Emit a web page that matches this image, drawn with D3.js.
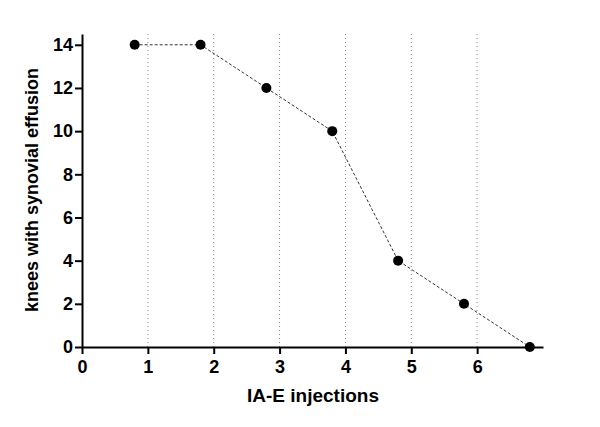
<!DOCTYPE html>
<meta charset="UTF-8">
<style>
body { margin: 0; background: #fff; }
.axis text { font: bold 18px "Liberation Sans", Arial, sans-serif; fill: #000; }
.axis path, .axis line { stroke: #000; stroke-width: 2px; }
.grid { stroke: #888; stroke-width: 1px; stroke-dasharray: 1,3; }
.link { fill: none; stroke: #333; stroke-width: 1px; stroke-dasharray: 3,2; }
.title { font: bold 18px "Liberation Sans", Arial, sans-serif; fill: #000; }
</style>
<body>
<script src="https://d3js.org/d3.v7.min.js"></script>
<script>

var injections = [0.8, 1.8, 2.8, 3.8, 4.8, 5.8, 6.8];
var knees = [14, 14, 12, 10, 4, 2, 0];
var xTicks = [0, 1, 2, 3, 4, 5, 6];
var yTicks = [0, 2, 4, 6, 8, 10, 12, 14];
var gridLines = [1, 2, 3, 4, 5, 6];

var width = 600, height = 427;

var svg = d3.select("body").append("svg")
    .attr("width", width)
    .attr("height", height);

var x = d3.scaleLinear().domain([0, 7]).range([82, 543]);
var y = d3.scaleLinear().domain([0, 14.5]).range([347, 34]);

// dotted verticals
svg.selectAll("line.grid")
    .data(gridLines)
  .enter().append("line")
    .attr("class", "grid")
    .attr("x1", function(d) { return x(d); })
    .attr("x2", function(d) { return x(d); })
    .attr("y1", y(14.5))
    .attr("y2", y(0));

svg.append("g")
    .attr("class", "axis")
    .attr("transform", "translate(0," + y(0) + ")")
    .call(d3.axisBottom(x).tickValues(xTicks).tickFormat(d3.format("d"))
      .tickSize(7).tickPadding(6).tickSizeOuter(0));

svg.append("g")
    .attr("class", "axis")
    .attr("transform", "translate(" + x(0) + ",0)")
    .call(d3.axisLeft(y).tickValues(yTicks).tickFormat(d3.format("d"))
      .tickSize(7).tickPadding(2).tickSizeOuter(0));

var pts = injections.map(function(d, i) { return [d, knees[i]]; });

svg.append("path")
    .attr("class", "link")
    .attr("d", d3.line().x(function(d) { return x(d[0]); }).y(function(d) { return y(d[1]); })(pts));

svg.selectAll("circle.dot")
    .data(pts)
  .enter().append("circle")
    .attr("class", "dot")
    .attr("cx", function(d) { return x(d[0]); })
    .attr("cy", function(d) { return y(d[1]); })
    .attr("r", 5)
    .style("fill", "#000");

svg.append("text")
    .attr("class", "title")
    .style("font-size", "19px")
    .attr("x", 313)
    .attr("y", 402)
    .attr("text-anchor", "middle")
    .text("IA-E injections");

svg.append("text")
    .attr("class", "title")
    .attr("transform", "translate(38,190) rotate(-90)")
    .attr("text-anchor", "middle")
    .text("knees with synovial effusion");

</script>
</body>
